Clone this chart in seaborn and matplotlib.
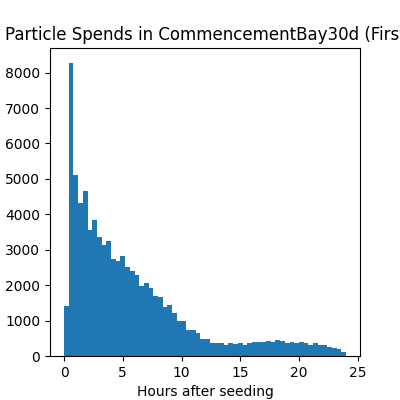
import numpy as np
import pandas as pd
import matplotlib
matplotlib.use('Agg')
import matplotlib.pyplot as plt
import seaborn as sns


# histogram counts, 60 bins of 0.4 h from 0 to 24 h
bin_start = np.arange(0, 24, 0.4)
counts = [1410, 8280, 5100, 4320, 4660, 3550, 3840, 3350, 3130, 3240,
          2730, 2680, 2820, 2510, 2400, 2285, 1970, 2060, 1915, 1690,
          1660, 1380, 1435, 1210, 980, 980, 726, 726, 650, 471,
          471, 358, 358, 358, 301, 358, 339, 358, 320, 358,
          386, 386, 386, 414, 386, 443, 414, 358, 386, 358,
          386, 358, 301, 358, 301, 301, 245, 217, 188, 104]
# the title runs past both edges of the figure in the original too
title = 'Particle Spends in CommencementBay30d (First'
xlabel = 'Hours after seeding'

df = pd.DataFrame({'hours': bin_start + 0.2, 'count': counts})

fig, ax = plt.subplots(figsize=(4, 4), dpi=100)
sns.histplot(data=df, x='hours', weights='count', binwidth=0.4, binrange=(0, 24),
             ax=ax, color='#1f77b4', alpha=1, linewidth=0, edgecolor='none')
ax.set_xlabel(xlabel)
ax.set_ylabel('')
ax.set_title(title)
ax.set_xticks([0, 5, 10, 15, 20, 25])
ax.set_yticks(range(0, 9000, 1000))

fig.savefig('out.png', dpi=100)
